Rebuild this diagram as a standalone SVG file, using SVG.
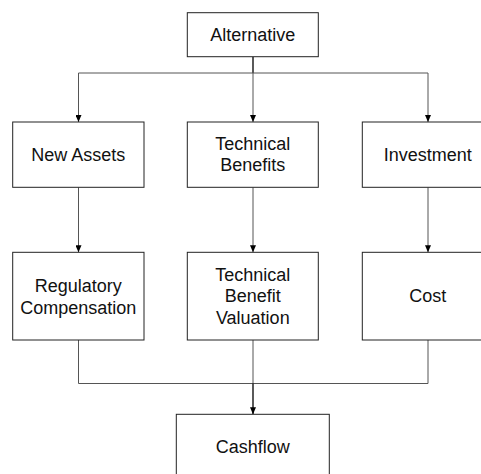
<svg xmlns="http://www.w3.org/2000/svg" width="481" height="474" viewBox="0 0 481 474">
<style>
.box{fill:#fff;stroke:#222;stroke-width:1}
.t{font-family:"Liberation Sans",Arial,sans-serif;font-size:18px;fill:#111;text-anchor:middle}
.ln{fill:none;stroke:#555;stroke-width:1}
.dk{fill:none;stroke:#000;stroke-width:1.3}
</style>
<defs>
<marker id="ah" viewBox="0 0 7 6" markerWidth="7" markerHeight="6" refX="7" refY="3" orient="auto" markerUnits="userSpaceOnUse">
<path d="M0,0 L7,3 L0,6 Z" fill="#000"/>
</marker>
</defs>
<g id="connectors">
<path class="dk" d="M253,56.7 V73"/>
<path class="ln" d="M78.5,73 H428"/>
<path class="ln" d="M253,73 V122" marker-end="url(#ah)"/>
<path class="ln" d="M78.5,73 V122" marker-end="url(#ah)"/>
<path class="ln" d="M428,73 V122" marker-end="url(#ah)"/>
<path class="ln" d="M78.5,187.3 V252.3" marker-end="url(#ah)"/>
<path class="ln" d="M253,187.3 V252.3" marker-end="url(#ah)"/>
<path class="ln" d="M428,187.3 V252.3" marker-end="url(#ah)"/>
<path class="ln" d="M78.5,340 V383.5 H428 V340"/>
<path class="ln" d="M253,340 V383.5"/>
<path class="dk" d="M253,383.5 V414.3" marker-end="url(#ah)"/>
</g>
<g id="alternative">
<rect class="box" x="187.3" y="12.7" width="131" height="44"/>
<text class="t" x="252.8" y="41">Alternative</text>
</g>
<g id="new-assets">
<rect class="box" x="12.7" y="122" width="131.3" height="65.3"/>
<text class="t" x="78.3" y="161">New Assets</text>
</g>
<g id="technical-benefits">
<rect class="box" x="187.3" y="122" width="131" height="65.3"/>
<text class="t" x="252.8" y="149.5">Technical</text>
<text class="t" x="252.8" y="171">Benefits</text>
</g>
<g id="investment">
<rect class="box" x="362.3" y="122" width="131.3" height="65.3"/>
<text class="t" x="427.8" y="161">Investment</text>
</g>
<g id="regulatory-compensation">
<rect class="box" x="12.7" y="252.3" width="131.3" height="87.7"/>
<text class="t" x="78.3" y="292">Regulatory</text>
<text class="t" x="78.3" y="313.5">Compensation</text>
</g>
<g id="technical-benefit-valuation">
<rect class="box" x="187.3" y="252.3" width="131" height="87.7"/>
<text class="t" x="252.8" y="280.5">Technical</text>
<text class="t" x="252.8" y="302">Benefit</text>
<text class="t" x="252.8" y="323.5">Valuation</text>
</g>
<g id="cost">
<rect class="box" x="362.3" y="252.3" width="131.3" height="87.7"/>
<text class="t" x="427.8" y="302">Cost</text>
</g>
<g id="cashflow">
<rect class="box" x="176.3" y="414.3" width="153" height="66"/>
<text class="t" x="252.8" y="453">Cashflow</text>
</g>
</svg>
